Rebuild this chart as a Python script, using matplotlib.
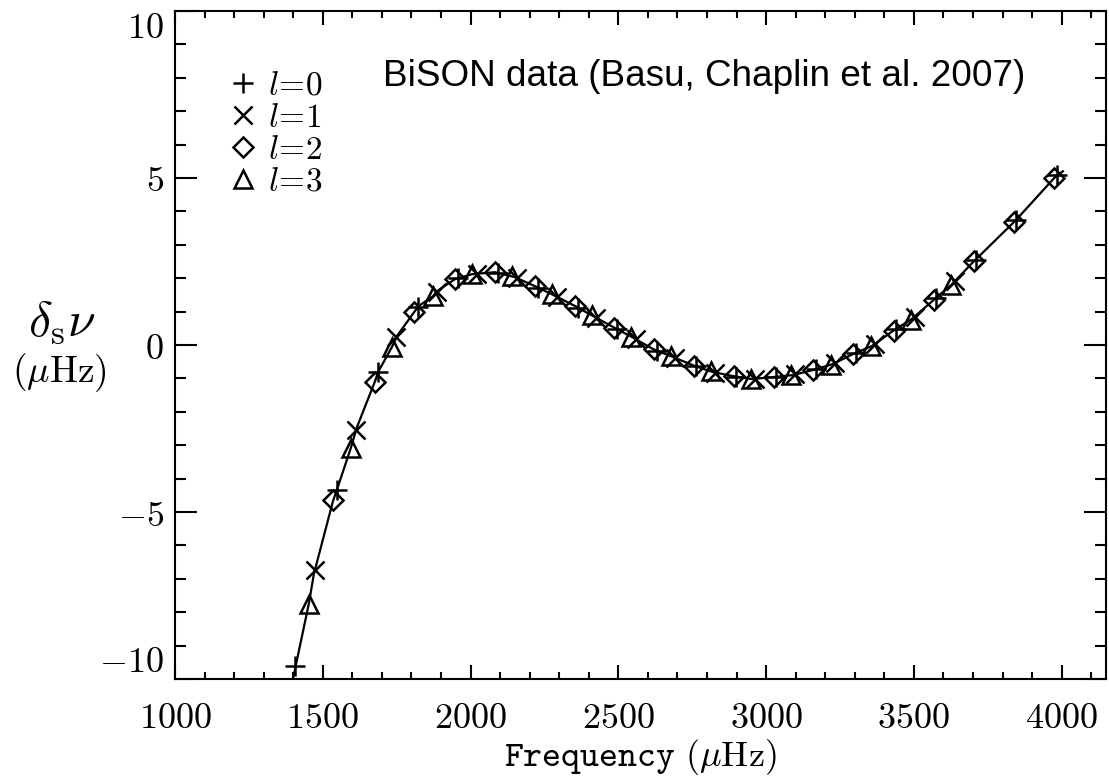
import matplotlib
matplotlib.use("Agg")
import matplotlib.pyplot as plt
from matplotlib.ticker import MultipleLocator, FuncFormatter

plt.rcParams['mathtext.fontset'] = 'cm'
plt.rcParams['font.family'] = ['DejaVu Serif']

# smooth fitted curve (frequency in muHz, delta_s nu in muHz)
curve_x = [1389, 1399, 1453, 1470, 1534, 1551, 1595, 1616, 1677, 1687, 1734, 1751,
           1812, 1825, 1873, 1886, 1947, 2005, 2083, 2150, 2218, 2275, 2353, 2414,
           2482, 2546, 2617, 2685, 2759, 2820, 2888, 2952, 3023, 3091, 3158, 3226,
           3294, 3358, 3429, 3493, 3571, 3629, 3700, 3842, 3977, 4004]
curve_y = [-10.34, -10.0, -7.74, -6.85, -4.69, -4.25, -3.08, -2.45, -1.08, -0.81, -0.06, 0.27,
           1.02, 1.17, 1.46, 1.61, 1.97, 2.12, 2.18, 2.03, 1.76, 1.52, 1.17, 0.87,
           0.54, 0.24, -0.12, -0.36, -0.63, -0.81, -0.93, -1.02, -0.96, -0.90, -0.75, -0.57,
           -0.27, -0.03, 0.42, 0.78, 1.38, 1.82, 2.48, 3.71, 5.02, 5.20]

# l = 0
nu_l0 = [1407, 1548, 1687, 1822, 1957, 2093, 2229, 2363, 2496, 2630, 2764, 2899,
         3034, 3169, 3304, 3439, 3575, 3711, 3847, 3983]
ds_l0 = [-9.6, -4.34, -0.80, 1.14, 2.00, 2.17, 1.72, 1.12, 0.47, -0.17, -0.64, -0.95,
         -0.95, -0.72, -0.23, 0.47, 1.41, 2.53, 3.75, 5.08]
# l = 1
nu_l1 = [1473, 1613, 1749, 1885, 2021, 2157, 2292, 2426, 2559, 2693, 2828, 2963,
         3098, 3233, 3369, 3504, 3640]
ds_l1 = [-6.75, -2.53, 0.23, 1.60, 2.14, 2.01, 1.45, 0.81, 0.19, -0.39, -0.83, -1.01,
         -0.88, -0.55, 0.04, 0.84, 1.91]
# l = 2
nu_l2 = [1536, 1675, 1810, 1946, 2082, 2218, 2352, 2486, 2620, 2755, 2890, 3025,
         3160, 3295, 3431, 3567, 3703, 3839, 3975]
ds_l2 = [-4.65, -1.12, 1.00, 1.97, 2.18, 1.76, 1.17, 0.52, -0.13, -0.62, -0.93, -0.96,
         -0.75, -0.27, 0.43, 1.35, 2.50, 3.69, 5.00]
# l = 3
nu_l3 = [1453, 1595, 1734, 1872, 2005, 2140, 2275, 2410, 2544, 2678, 2813, 2948,
         3083, 3219, 3355, 3490, 3627]
ds_l3 = [-7.74, -3.08, -0.06, 1.46, 2.12, 2.06, 1.52, 0.89, 0.25, -0.34, -0.79, -1.01,
         -0.91, -0.59, -0.04, 0.76, 1.81]

series_labels = [r'$l\!=\!0$', r'$l\!=\!1$', r'$l\!=\!2$', r'$l\!=\!3$']
y_ticks = [-10, -5, 0, 5, 10]

fig = plt.figure(figsize=(11.09, 7.78), dpi=100)
ax = fig.add_axes([0.1578, 0.1272, 0.8395, 0.8587])

ax.plot(curve_x, curve_y, color='k', lw=1.6, zorder=2)

mk = dict(linestyle='none', color='k', mfc='none', mec='k', mew=1.8, zorder=3)
h0, = ax.plot(nu_l0, ds_l0, marker='+', ms=15, label=series_labels[0], **mk)
h1, = ax.plot(nu_l1, ds_l1, marker='x', ms=13, label=series_labels[1], **mk)
h2, = ax.plot(nu_l2, ds_l2, marker='D', ms=10, label=series_labels[2], **mk)
h3, = ax.plot(nu_l3, ds_l3, marker='^', ms=13, label=series_labels[3], **mk)

ax.set_xlim(1000, 4150)
ax.set_ylim(-10, 10)

ax.xaxis.set_major_locator(MultipleLocator(500))
ax.xaxis.set_minor_locator(MultipleLocator(100))
ax.set_yticks(y_ticks)
ax.yaxis.set_minor_locator(MultipleLocator(1))

fmt = FuncFormatter(lambda v, p: r'$%g$' % v if abs(v) > 1e-9 else r'$0$')
ax.xaxis.set_major_formatter(fmt)
ax.yaxis.set_major_formatter(fmt)

ax.tick_params(axis='both', which='both', direction='in', top=True, right=True,
               width=1.5, labelsize=26)
ax.tick_params(axis='x', which='major', length=10, pad=16)
ax.tick_params(axis='x', which='minor', length=5)
ax.tick_params(axis='y', which='major', length=16, pad=8)
ax.tick_params(axis='y', which='minor', length=8)
for s in ax.spines.values():
    s.set_linewidth(1.5)

# end labels of the y axis sit inside the axis range, as in the original
yt = ax.yaxis.get_major_ticks()
yt[0].label1.set_verticalalignment('bottom')
yt[-1].label1.set_verticalalignment('top')

ax.set_xlabel(r'$\mathtt{Frequency}\ (\mu\mathrm{Hz})$', fontsize=26, labelpad=1)

fig.text(62 / 1109, 1 - 322 / 778, r'$\delta_{\rm s}\nu$', fontsize=36,
         ha='center', va='center')
fig.text(59 / 1109, 1 - 373 / 778, r'$(\mu\mathrm{Hz})$', fontsize=27,
         ha='center', va='center')

ax.text(383 / 1109, 1 - 77 / 778, 'BiSON data (Basu, Chaplin et al. 2007)',
        transform=fig.transFigure, fontsize=26.6, family='Liberation Sans',
        ha='left', va='center')

leg = ax.legend(handles=[h0, h1, h2, h3], loc='upper left',
                bbox_to_anchor=(0.059, 0.912), frameon=False, fontsize=24,
                borderpad=0, borderaxespad=0, handlelength=0.8,
                handletextpad=0.35, labelspacing=0.0)

fig.savefig('out.png', dpi=100)
